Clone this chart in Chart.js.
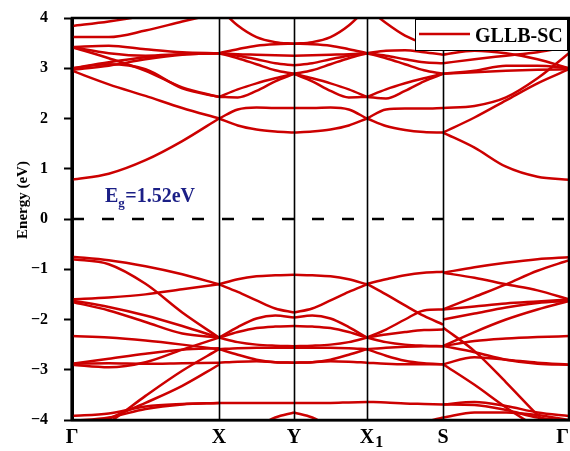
<!DOCTYPE html>
<html>
<head>
<meta charset="utf-8">
<script src="https://cdn.jsdelivr.net/npm/chart.js@4.4.1/dist/chart.umd.min.js"></script>
<style>
  html, body { margin: 0; padding: 0; background: #fff; }
</style>
</head>
<body>
<canvas id="bands" width="570" height="451"></canvas>
<script>
// high-symmetry path (cumulative k distance) and labels
const kPoints = [0, 147, 222, 295, 371, 497];
const kLabels = ["Γ", "X", "Y", "X|1", "S", "Γ"];
// sample positions inside each segment
const kFrac = [0, 0.25, 0.5, 0.75, 1];
const fermiLevel = 0;
const gapText = "1.52eV";
const seriesName = "GLLB-SC";

// energies (eV) along each segment
const bandsGX = [
  [0.78, 0.9, 1.17, 1.55, 2.0],
  [2.95, 2.68, 2.45, 2.21, 2.0],
  [3.0, 3.08, 2.98, 2.6, 2.43],
  [3.42, 3.2, 2.95, 2.62, 2.43],
  [3.42, 3.45, 3.38, 3.32, 3.3],
  [3.42, 3.3, 3.25, 3.28, 3.3],
  [3.0, 3.12, 3.22, 3.28, 3.3],
  [2.97, 3.05, 3.18, 3.27, 3.3],
  [3.62, 3.62, 3.75, 3.93, 4.1],
  [3.84, 3.93, 4.05, 4.2, 4.4],
  [-0.75, -0.82, -0.94, -1.1, -1.3],
  [-0.8, -0.9, -1.29, -1.86, -2.36],
  [-1.6, -1.56, -1.5, -1.4, -1.3],
  [-1.62, -1.75, -1.92, -2.13, -2.36],
  [-1.65, -1.82, -2.05, -2.28, -2.36],
  [-2.33, -2.36, -2.42, -2.5, -2.59],
  [-2.88, -2.78, -2.68, -2.6, -2.57],
  [-2.9, -2.95, -2.85, -2.6, -2.36],
  [-2.88, -2.87, -2.88, -2.87, -2.86],
  [-3.92, -3.87, -3.73, -3.68, -3.66],
  [-4.02, -3.95, -3.78, -3.69, -3.66],
  [-4.4, -3.98, -3.66, -3.32, -2.9],
  [-4.4, -4.05, -3.52, -3.02, -2.59]
];

const bandsXY = [
  [2.0, 1.86, 1.78, 1.74, 1.72],
  [2.0, 2.18, 2.22, 2.21, 2.21],
  [2.43, 2.58, 2.7, 2.8, 2.89],
  [2.43, 2.42, 2.55, 2.74, 2.89],
  [3.3, 3.28, 3.27, 3.26, 3.25],
  [3.3, 3.2, 3.08, 2.96, 2.89],
  [3.3, 3.38, 3.45, 3.48, 3.49],
  [3.3, 3.25, 3.18, 3.1, 3.06],
  [4.2, 3.85, 3.62, 3.52, 3.49],
  [-1.3, -1.2, -1.14, -1.12, -1.11],
  [-1.3, -1.45, -1.62, -1.78, -1.86],
  [-2.36, -2.15, -1.98, -1.92, -1.96],
  [-2.36, -2.25, -2.17, -2.14, -2.13],
  [-2.36, -2.45, -2.5, -2.52, -2.53],
  [-2.59, -2.57, -2.56, -2.56, -2.56],
  [-2.59, -2.7, -2.8, -2.85, -2.86],
  [-2.86, -2.84, -2.83, -2.85, -2.86],
  [-3.66, -3.66, -3.66, -3.66, -3.66],
  [-4.6, -4.4, -4.15, -3.95, -3.85]
];

const bandsYX1 = [
  [1.72, 1.74, 1.78, 1.86, 2.0],
  [2.21, 2.21, 2.22, 2.18, 2.0],
  [2.89, 2.8, 2.7, 2.58, 2.43],
  [2.89, 2.74, 2.55, 2.42, 2.43],
  [3.25, 3.26, 3.27, 3.28, 3.3],
  [2.89, 2.96, 3.08, 3.2, 3.3],
  [3.49, 3.48, 3.45, 3.38, 3.3],
  [3.06, 3.1, 3.18, 3.25, 3.3],
  [3.49, 3.52, 3.62, 3.85, 4.2],
  [-1.11, -1.12, -1.14, -1.2, -1.3],
  [-1.86, -1.78, -1.62, -1.45, -1.3],
  [-1.96, -1.92, -1.98, -2.15, -2.36],
  [-2.13, -2.14, -2.17, -2.25, -2.36],
  [-2.53, -2.52, -2.5, -2.45, -2.36],
  [-2.56, -2.56, -2.56, -2.57, -2.59],
  [-2.86, -2.85, -2.8, -2.7, -2.59],
  [-2.86, -2.85, -2.83, -2.84, -2.86],
  [-3.66, -3.66, -3.66, -3.65, -3.64],
  [-3.85, -3.95, -4.15, -4.4, -4.6]
];

const bandsX1S = [
  [2.0, 1.85, 1.77, 1.73, 1.72],
  [2.0, 2.18, 2.2, 2.2, 2.21],
  [2.43, 2.58, 2.7, 2.8, 2.89],
  [2.43, 2.4, 2.55, 2.74, 2.89],
  [3.3, 3.2, 3.08, 2.96, 2.89],
  [3.3, 3.35, 3.36, 3.32, 3.27],
  [3.3, 3.25, 3.18, 3.12, 3.1],
  [4.2, 3.9, 3.65, 3.5, 3.45],
  [-1.29, -1.2, -1.12, -1.07, -1.05],
  [-1.29, -1.5, -1.72, -1.93, -2.1],
  [-2.36, -2.2, -2.0, -1.82, -1.8],
  [-2.36, -2.3, -2.25, -2.21, -2.2],
  [-2.36, -2.45, -2.5, -2.52, -2.53],
  [-2.59, -2.56, -2.54, -2.53, -2.53],
  [-2.59, -2.72, -2.82, -2.87, -2.89],
  [-2.86, -2.88, -2.89, -2.89, -2.89],
  [-3.64, -3.65, -3.67, -3.68, -3.69],
  [-4.6, -4.4, -4.2, -4.05, -3.95]
];

const bandsSG = [
  [1.72, 1.42, 1.04, 0.84, 0.78],
  [1.72, 2.02, 2.36, 2.7, 2.98],
  [2.21, 2.25, 2.42, 2.8, 3.3],
  [2.89, 2.95, 3.05, 3.05, 3.0],
  [2.89, 2.92, 2.95, 2.97, 2.98],
  [3.1, 3.18, 3.25, 3.32, 3.42],
  [3.27, 3.35, 3.3, 3.18, 3.0],
  [3.45, 3.55, 3.6, 3.62, 3.62],
  [3.45, 3.62, 3.75, 3.8, 3.84],
  [4.3, 4.08, 3.98, 4.02, 4.15],
  [-1.07, -0.96, -0.87, -0.8, -0.76],
  [-1.07, -1.17, -1.3, -1.42, -1.6],
  [-1.8, -1.55, -1.3, -1.03, -0.82],
  [-1.8, -1.74, -1.68, -1.64, -1.6],
  [-2.0, -1.88, -1.76, -1.67, -1.63],
  [-2.53, -2.25, -2.0, -1.8, -1.63],
  [-2.53, -2.43, -2.38, -2.35, -2.33],
  [-2.53, -2.65, -2.8, -2.88, -2.9],
  [-2.89, -2.75, -2.8, -2.86, -2.9],
  [-2.16, -2.63, -3.25, -3.9, -4.5],
  [-2.89, -3.3, -3.75, -4.15, -4.5],
  [-3.69, -3.64, -3.72, -3.85, -3.92],
  [-3.69, -3.7, -3.8, -3.95, -4.02],
  [-3.95, -3.85, -3.85, -3.9, -4.0]
];

const segments = [bandsGX, bandsXY, bandsYX1, bandsX1S, bandsSG];

const bandColor = "#cc0000";
const serif = "'Liberation Serif', 'Times New Roman', serif";

//-----------------------------------------------------
// datasets: one line per band piece
//-----------------------------------------------------
const datasets = [];
segments.forEach((rows, s) => {
  const k0 = kPoints[s];
  const k1 = kPoints[s + 1];
  rows.forEach((row) => {
    datasets.push({
      data: row.map((e, i) => ({ x: k0 + kFrac[i] * (k1 - k0), y: e })),
      borderColor: bandColor,
      borderWidth: 2.5,
      pointRadius: 0,
      cubicInterpolationMode: "monotone",
      fill: false,
    });
  });
});

// Fermi level
datasets.push({
  data: [
    { x: kPoints[0], y: fermiLevel },
    { x: kPoints[kPoints.length - 1], y: fermiLevel },
  ],
  borderColor: "#000",
  borderWidth: 2.5,
  borderDash: [12, 18],
  pointRadius: 0,
});

//-----------------------------------------------------
// extra drawing: k-point lines, frame, legend, labels
//-----------------------------------------------------
const overlay = {
  id: "overlay",
  afterDatasetsDraw(chart) {
    const { ctx, chartArea: a, scales } = chart;
    const x = scales.x;
    const y = scales.y;
    ctx.save();

    ctx.strokeStyle = "#000";
    ctx.lineWidth = 1.6;
    kPoints.slice(1, -1).forEach((k) => {
      const px = Math.round(x.getPixelForValue(k)) + 0.5;
      ctx.beginPath();
      ctx.moveTo(px, a.top);
      ctx.lineTo(px, a.bottom);
      ctx.stroke();
    });

    // frame
    ctx.lineWidth = 2.5;
    ctx.strokeRect(a.left, a.top, a.right - a.left, a.bottom - a.top);
    ctx.lineWidth = 3;
    ctx.beginPath();
    ctx.moveTo(a.left, a.top);
    ctx.lineTo(a.left, a.bottom);
    ctx.stroke();

    // legend box
    const lx = a.right - 154;
    const ly = a.top + 1;
    ctx.fillStyle = "#fff";
    ctx.fillRect(lx, ly, 152, 31);
    ctx.lineWidth = 1;
    ctx.strokeRect(lx + 0.5, ly + 0.5, 152, 31);
    ctx.strokeStyle = bandColor;
    ctx.lineWidth = 2.5;
    ctx.beginPath();
    ctx.moveTo(lx + 4, ly + 15);
    ctx.lineTo(lx + 55, ly + 15);
    ctx.stroke();
    ctx.fillStyle = "#000";
    ctx.font = "bold 20px " + serif;
    ctx.textAlign = "left";
    ctx.textBaseline = "alphabetic";
    ctx.fillText(seriesName, lx + 60, ly + 23);

    // band gap note
    const gx = x.getPixelForValue(33);
    const gy = y.getPixelForValue(0.33);
    ctx.fillStyle = "#1b1f86";
    ctx.font = "bold 20px " + serif;
    ctx.fillText("E", gx, gy);
    let w = ctx.measureText("E").width;
    ctx.font = "bold 13px " + serif;
    ctx.fillText("g", gx + w, gy + 5);
    w += ctx.measureText("g").width;
    ctx.font = "bold 20px " + serif;
    ctx.fillText("=" + gapText, gx + w + 0.5, gy);

    ctx.restore();
  },
  afterDraw(chart) {
    const { ctx, chartArea: a, scales } = chart;
    const x = scales.x;
    ctx.save();
    ctx.fillStyle = "#000";
    ctx.textBaseline = "alphabetic";

    // k-point labels, "|" marks a subscript
    kLabels.forEach((lab, i) => {
      const [main, sub] = lab.split("|");
      ctx.font = "bold 20px " + serif;
      const mw = ctx.measureText(main).width;
      let px = x.getPixelForValue(kPoints[i]) - mw / 2;
      px = Math.min(px, chart.width - mw - 1);
      ctx.textAlign = "left";
      ctx.fillText(main, px, a.bottom + 23);
      if (sub) {
        ctx.font = "bold 16px " + serif;
        ctx.fillText(sub, px + mw + 1, a.bottom + 27);
      }
    });

    // y title
    ctx.translate(27, (a.top + a.bottom) / 2 - 19);
    ctx.rotate(-Math.PI / 2);
    ctx.textAlign = "center";
    ctx.font = "bold 15px " + serif;
    ctx.fillText("Energy (eV)", 0, 0);
    ctx.restore();
  },
};

new Chart(document.getElementById("bands"), {
  type: "line",
  data: { datasets },
  options: {
    responsive: false,
    animation: false,
    devicePixelRatio: 1,
    layout: { padding: { top: 18, right: 1, left: 0, bottom: 0 } },
    plugins: {
      legend: { display: false },
      tooltip: { enabled: false },
    },
    scales: {
      x: {
        type: "linear",
        min: kPoints[0],
        max: kPoints[kPoints.length - 1],
        afterBuildTicks: (axis) => {
          axis.ticks = kPoints.map((v) => ({ value: v }));
        },
        afterFit: (scale) => {
          scale.height = 31;
          scale.paddingLeft = 0;
          scale.paddingRight = 0;
        },
        ticks: { display: false },
        grid: { display: false },
        border: { color: "#000", width: 2.5 },
      },
      y: {
        min: -4,
        max: 4,
        afterFit: (scale) => {
          scale.width = 72;
          scale.paddingTop = 0;
          scale.paddingBottom = 0;
        },
        ticks: {
          stepSize: 1,
          color: "#000",
          padding: 16,
          font: { family: serif, weight: "bold", size: 16 },
          callback: (v) => (v < 0 ? "\u2212" + Math.abs(v) : String(v)),
        },
        grid: {
          drawOnChartArea: false,
          drawTicks: true,
          tickLength: 8,
          tickWidth: 2,
          tickColor: "#000",
        },
        border: { color: "#000", width: 3 },
      },
    },
  },
  plugins: [overlay],
});
</script>
</body>
</html>
